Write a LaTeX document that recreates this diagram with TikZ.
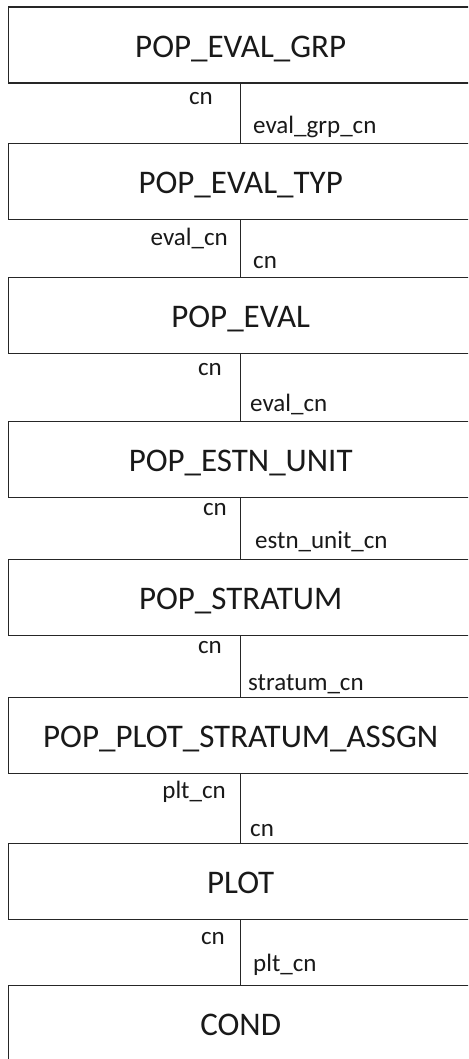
\documentclass[tikz,border=0pt]{standalone}
\usepackage{fontspec}
\setmainfont{Carlito}
\begin{document}
\begin{tikzpicture}[x=1pt,y=-1pt,
  tbox/.style={draw=black!85,line width=1.3pt,rectangle,anchor=north west,
    minimum width=464pt,minimum height=76pt,inner sep=0pt,
    text height=26pt,text depth=2pt,font=\fontsize{33}{40}\selectfont,text=black!90},
  conn/.style={draw=black!85,line width=1pt},
  lbl/.style={inner sep=0pt,font=\fontsize{25}{30}\selectfont,text=black!90}]
\useasboundingbox (0,0) rectangle (468,1059);
\clip (0,0) rectangle (468,1059);
\fill[white] (0,0) rectangle (468,1059);
% boxes
\node[tbox] (b1) at (8,6.5) {POP\_EVAL\_GRP};
\node[tbox] (b2) at (8,142.7) {POP\_EVAL\_TYP};
\node[tbox] (b3) at (8,276.7) {POP\_EVAL};
\node[tbox] (b4) at (8,420.7) {POP\_ESTN\_UNIT};
\node[tbox] (b5) at (8,558.7) {POP\_STRATUM};
\node[tbox] (b6) at (8,697) {POP\_PLOT\_STRATUM\_ASSGN};
\node[tbox] (b7) at (8,843) {PLOT};
\node[tbox] (b8) at (8,985) {COND};
% connectors
\draw[conn] (b1.south) -- (b2.north);
\draw[conn] (b2.south) -- (b3.north);
\draw[conn] (b3.south) -- (b4.north);
\draw[conn] (b4.south) -- (b5.north);
\draw[conn] (b5.south) -- (b6.north);
\draw[conn] (b6.south) -- (b7.north);
\draw[conn] (b7.south) -- (b8.north);
% labels
\node[lbl,anchor=base east] (l1a) at (213,105) {cn};
\node[lbl,anchor=base west] (l1b) at (253,134) {eval\_grp\_cn};
\node[lbl,anchor=base east] (l2a) at (228,245) {eval\_cn};
\node[lbl,anchor=base west] (l2b) at (253,268) {cn};
\node[lbl,anchor=base east] (l3a) at (222,375) {cn};
\node[lbl,anchor=base west] (l3b) at (250,411.7) {eval\_cn};
\node[lbl,anchor=base east] (l4a) at (227,515) {cn};
\node[lbl,anchor=base west] (l4b) at (255,548.3) {estn\_unit\_cn};
\node[lbl,anchor=base east] (l5a) at (222,653.3) {cn};
\node[lbl,anchor=base west] (l5b) at (248,690) {stratum\_cn};
\node[lbl,anchor=base east] (l6a) at (226,798.3) {plt\_cn};
\node[lbl,anchor=base west] (l6b) at (250,836.7) {cn};
\node[lbl,anchor=base east] (l7a) at (225,944.3) {cn};
\node[lbl,anchor=base west] (l7b) at (253,971.7) {plt\_cn};
\end{tikzpicture}
\end{document}
